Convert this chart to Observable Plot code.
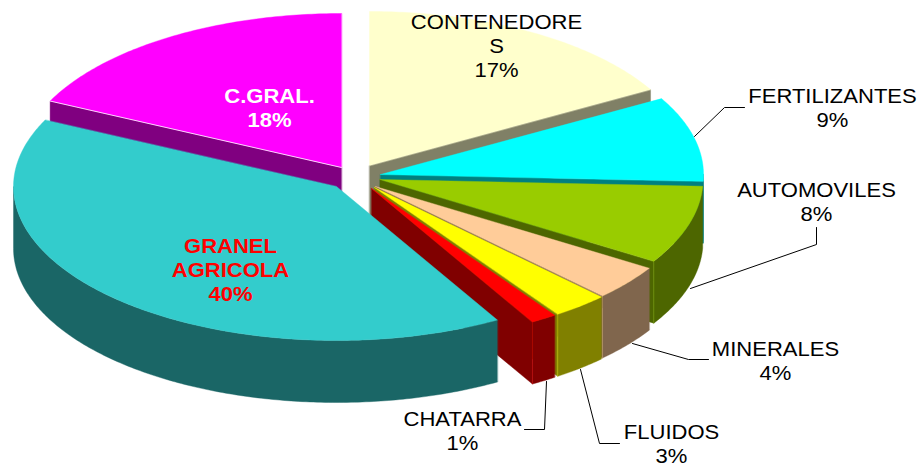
<!DOCTYPE html>
<html><head><meta charset="utf-8">
<script src="https://cdn.jsdelivr.net/npm/d3@7"></script>
<script src="https://cdn.jsdelivr.net/npm/@observablehq/plot@0.6"></script>
<style>
html,body{margin:0;padding:0;background:#fff;overflow:hidden}
</style></head><body>
<div id="chart"></div>
<script>
// values
const categories = ["CONTENEDORES","FERTILIZANTES","AUTOMOVILES","MINERALES","FLUIDOS","CHATARRA","GRANEL AGRICOLA","C.GRAL."];
const shares = [16.8,8.9,8.2,3.7,2.8,1.3,40.4,17.9];
const wrappedNames = ["CONTENEDORE\nS","FERTILIZANTES","AUTOMOVILES","MINERALES","FLUIDOS","CHATARRA","GRANEL\nAGRICOLA","C.GRAL."];
// styles
const topColors  = ["#FFFFCC","#00FFFF","#99CC00","#FFCC99","#FFFF00","#FF0000","#33CCCC","#FF00FF"];
const wallColors = ["#808066","#008080","#4D6600","#80664D","#808000","#800000","#1A6666","#800080"];
// layout
const apexX = [369,380,379.5,375,374,371,336,341];
const apexY = [165,174,179,186,187,188,186,167];
const rx = 323, ry = 154, depth = 62;
const labelX = [496,832,816,775,671,462,230,269];
const labelY = [44.5,107,200.5,360,443,429.5,269,107];
const labelColor = ["#000","#000","#000","#000","#000","#000","#FF0000","#FFF"];
const labelBold = [false,false,false,false,false,false,true,true];
const leaders = [
  [[694,136],[724,107],[744,107]],
  [[690,288],[816,244],[816,227]],
  [[632,343],[688,359],[708,359]],
  [[580,369],[599,443],[619,443]],
  [[546,381],[544,429],[524,429]]
];

const rad = d => d * Math.PI / 180;
const px = (i,a) => apexX[i] + rx * Math.sin(rad(a));
const py = (i,a) => apexY[i] - ry * Math.cos(rad(a));
const total = d3.sum(shares);
const ends = d3.cumsum(shares).map(v => v / total * 360);
const starts = ends.map((e,i) => i ? ends[i-1] : 0);
const arcAngles = (a,b) => { const n = Math.max(2,Math.ceil((b-a)*1.5)); return d3.range(n+1).map(k => a+(b-a)*k/n); };
const poly = (pts,fill) => Plot.line(pts,{x:d=>d[0],y:d=>d[1],fill,stroke:fill,strokeWidth:0.4,curve:"linear-closed"});
const edge = (pts,stroke,o) => Plot.line(pts,{x:d=>d[0],y:d=>d[1],stroke,strokeWidth:1,strokeOpacity:o});

const sliceMarks = [];
// back to front: C.GRAL. is painted first, GRANEL last
[7,0,1,2,3,4,5,6].forEach(i => {
  const s = starts[i], e = ends[i], W = wallColors[i], ax = apexX[i], ay = apexY[i];
  const radial = a => [[ax,ay],[px(i,a),py(i,a)],[px(i,a),py(i,a)+depth],[ax,ay+depth]];
  if (Math.sin(rad(s)) < -1e-6) sliceMarks.push(poly(radial(s),W));
  if (Math.sin(rad(e)) > 1e-6) sliceMarks.push(poly(radial(e),W));
  const lo = Math.max(s,90), hi = Math.min(e,270);
  if (hi > lo) {
    const as = arcAngles(lo,hi);
    sliceMarks.push(poly([...as.map(a=>[px(i,a),py(i,a)]),...as.slice().reverse().map(a=>[px(i,a),py(i,a)+depth])],W));
  }
  // pale highlight on the wall's vertical corner
  if (hi > lo && i !== 6 && i !== 1) sliceMarks.push(edge([[px(i,e),py(i,e)],[px(i,e),py(i,e)+depth]],topColors[i],0.35));
  sliceMarks.push(poly([[ax,ay],...arcAngles(s,e).map(a=>[px(i,a),py(i,a)])],topColors[i]));
  // pale highlight where C.GRAL.'s top meets its wall
  if (i === 7) sliceMarks.push(edge([[ax,ay],[px(i,s),py(i,s)]],"#FFFFFF",0.8));
});

const labels = categories.map((c,i)=>({text:`${wrappedNames[i]}\n${Math.round(shares[i])}%`,x:labelX[i],y:labelY[i],color:labelColor[i],bold:labelBold[i]}));
const textMark = (rows,weight,cls) => Plot.text(rows,{x:"x",y:"y",text:"text",fill:"color",fontSize:19.5,fontWeight:weight,fontFamily:"Liberation Sans",lineHeight:1.24,lineAnchor:"middle",textAnchor:"middle",className:cls});

const chart = Plot.plot({
  width:920,height:466,margin:0,
  x:{domain:[0,920],range:[0,920],axis:null},
  y:{domain:[0,466],range:[0,466],axis:null},
  marks:[
    ...sliceMarks,
    ...leaders.map(l=>Plot.line(l,{x:d=>d[0],y:d=>d[1],stroke:"#000",strokeWidth:1})),
    textMark(labels.filter(d=>!d.bold),"normal","lbl"),
    textMark(labels.filter(d=>d.bold),"bold","lblb")
  ]
});
// the reference's lettering is slightly wide: stretch each text horizontally about its anchor
d3.select(chart).selectAll(".lbl text, .lblb text").attr("transform", function(){
  return (this.getAttribute("transform")||"") + " scale(1.13,1)";
});
document.getElementById("chart").append(chart);
</script></body></html>
